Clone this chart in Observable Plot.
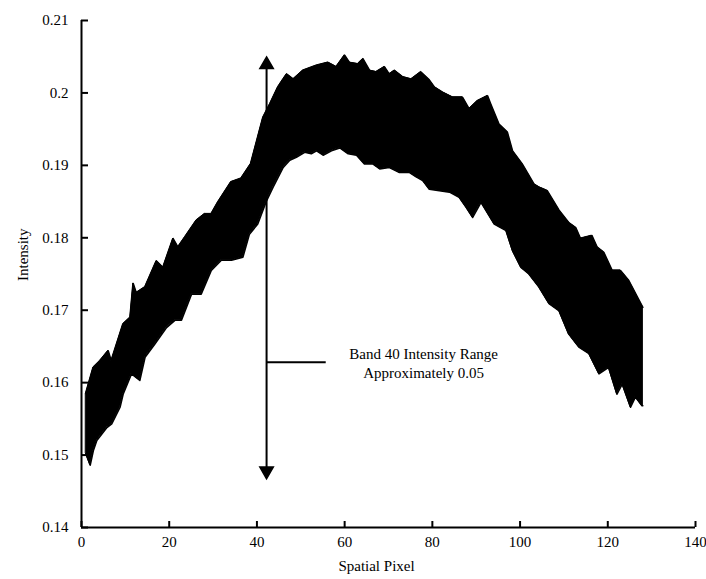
<!DOCTYPE html>
<html>
<head>
<meta charset="utf-8">
<script src="https://cdn.jsdelivr.net/npm/d3@7"></script>
<script src="https://cdn.jsdelivr.net/npm/@observablehq/plot@0.6"></script>
<style>
  html, body { margin: 0; padding: 0; background: #fff; }
  #chart svg { display: block; }
</style>
</head>
<body>
<div id="chart"></div>
<script>
// Upper envelope of the band of curves (spatial pixel, intensity)
const upperX = [1, 2.7, 4.2, 6.1, 6.8, 9.5, 11.1, 11.8, 12.5, 14.5, 17.1, 18.6, 20.9, 22, 23.6, 26.2, 28.1, 29.6, 31.1, 34.1, 36.4, 38.6, 41.4, 43, 44.8, 46, 46.8, 48.3, 50.5, 53.6, 56.2, 58.1, 60, 61.1, 63, 64.2, 65.7, 67.2, 69.1, 70.2, 71.4, 73.3, 75.2, 77.4, 79.3, 80.5, 82.3, 84.6, 86.9, 88.4, 90.3, 92.6, 93.3, 95.2, 97.1, 98.3, 100.5, 103.2, 104.3, 106.2, 108.9, 111.1, 112.7, 113.8, 116.4, 117.6, 119.1, 121, 122.9, 124.8, 128];
const upperY = [0.1585, 0.1621, 0.1630, 0.1644, 0.1630, 0.1681, 0.1690, 0.1737, 0.1724, 0.1732, 0.1768, 0.1759, 0.1799, 0.1787, 0.1801, 0.1824, 0.1833, 0.1833, 0.1849, 0.1877, 0.1882, 0.1902, 0.1966, 0.1985, 0.2008, 0.2019, 0.2026, 0.2019, 0.2031, 0.2038, 0.2042, 0.2036, 0.2052, 0.2042, 0.2040, 0.2047, 0.2031, 0.2029, 0.2036, 0.2026, 0.2031, 0.2022, 0.2019, 0.2029, 0.2018, 0.2008, 0.2001, 0.1994, 0.1994, 0.1978, 0.1989, 0.1996, 0.1985, 0.1957, 0.1946, 0.1920, 0.1902, 0.1874, 0.1870, 0.1865, 0.1838, 0.1821, 0.1814, 0.1799, 0.1803, 0.1787, 0.1780, 0.1755, 0.1755, 0.1741, 0.1704];

// Lower envelope of the band of curves
const lowerX = [1, 2, 2.7, 3.5, 5.8, 6.9, 8.8, 9.5, 11.4, 13.3, 14.5, 16.7, 19.4, 21.3, 22.8, 25.1, 27.3, 29.6, 31.9, 34.2, 36.8, 38.3, 40.2, 42.2, 43.7, 46, 47.5, 49, 50.9, 52.4, 53.6, 55.1, 57, 58.9, 60.8, 62.7, 64.5, 66.4, 68, 70.2, 72.5, 74.8, 76.3, 77.8, 79.3, 81.6, 83.9, 86.1, 87.7, 89.2, 91.1, 92.2, 94.1, 96.8, 98.3, 100.2, 102, 104.3, 106.6, 108.9, 111.1, 113.4, 115.7, 118, 120.2, 122.1, 123.3, 125.2, 126.3, 127.8, 128];
const lowerY = [0.1502, 0.1486, 0.1506, 0.1520, 0.1538, 0.1543, 0.1566, 0.1584, 0.1612, 0.1603, 0.1635, 0.1653, 0.1676, 0.1686, 0.1686, 0.1722, 0.1722, 0.1755, 0.1769, 0.1769, 0.1773, 0.1805, 0.1819, 0.1851, 0.1870, 0.1897, 0.1907, 0.1911, 0.1918, 0.1916, 0.1920, 0.1914, 0.1920, 0.1924, 0.1916, 0.1914, 0.1902, 0.1902, 0.1895, 0.1897, 0.1890, 0.1890, 0.1884, 0.1879, 0.1867, 0.1865, 0.1863, 0.1856, 0.1842, 0.1828, 0.1849, 0.1838, 0.1819, 0.1810, 0.1782, 0.1759, 0.1750, 0.1732, 0.1709, 0.1699, 0.1667, 0.1649, 0.1640, 0.1612, 0.1621, 0.1584, 0.1598, 0.1566, 0.1580, 0.1568, 0.1568];

// Axes
const xTicks = [0, 20, 40, 60, 80, 100, 120, 140];
const yTicks = [0.14, 0.15, 0.16, 0.17, 0.18, 0.19, 0.2, 0.21];
const yTickLabels = ["0.14", "0.15", "0.16", "0.17", "0.18", "0.19", "0.2", "0.21"];

// Annotation
const bandPixel = 42.2;
const rangeLow = 0.1478;
const rangeHigh = 0.2039;
const pointerY = 0.1628;
const pointerEndX = 55.8;
const noteX = 78;
const noteText = "Band 40 Intensity Range\nApproximately 0.05";

const idx = d3.range(upperX.length);
const upperPts = upperX.map((x, i) => ({x, y: upperY[i]}));
const lowerPts = lowerX.map((x, i) => ({x, y: lowerY[i]}));

const font = "'Liberation Serif', 'Times New Roman', serif";
const W = 706, H = 579, ML = 81, MR = 11, MT = 20, MB = 52;
const frameW = W - ML - MR, frameH = H - MT - MB;

const chart = Plot.plot({
  width: W,
  height: H,
  marginLeft: ML,
  marginRight: MR,
  marginTop: MT,
  marginBottom: MB,
  style: {fontFamily: font, fontSize: "15px", color: "black", background: "white"},
  x: {domain: [0, 140]},
  y: {domain: [0.14, 0.21]},
  marks: [
    Plot.area(idx, {
      x1: i => upperX[i], y1: i => upperY[i],
      x2: i => lowerX[i], y2: i => lowerY[i],
      fill: "black", stroke: "black", strokeWidth: 1
    }),
    Plot.line(upperPts, {x: "x", y: "y", stroke: "black", strokeWidth: 1.5}),
    Plot.line(lowerPts, {x: "x", y: "y", stroke: "black", strokeWidth: 1.5}),
    // annotation arrow
    Plot.ruleX([bandPixel], {y1: rangeLow, y2: rangeHigh, stroke: "black", strokeWidth: 2}),
    Plot.dot([rangeHigh], {x: () => bandPixel, y: d => d, symbol: "triangle", r: 5, fill: "black", stroke: "black"}),
    Plot.dot([rangeLow], {x: () => bandPixel, y: d => d, symbol: "triangle", rotate: 180, r: 5, fill: "black", stroke: "black"}),
    Plot.ruleY([pointerY], {x1: bandPixel, x2: pointerEndX, stroke: "black", strokeWidth: 2}),
    Plot.text([noteText], {x: noteX, y: pointerY, text: d => d, fontSize: 15, lineHeight: 1.3, fill: "black"}),
    // axes
    Plot.ruleX([0], {stroke: "black", strokeWidth: 2}),
    Plot.ruleY([0.14], {stroke: "black", strokeWidth: 2}),
    Plot.tickY(yTicks, {y: d => d, insetRight: frameW - 7, stroke: "black", strokeWidth: 2}),
    Plot.tickX(xTicks, {x: d => d, insetTop: frameH - 6, stroke: "black", strokeWidth: 2}),
    Plot.axisY(yTicks, {tickSize: 0, tickPadding: 13, tickFormat: (d, i) => yTickLabels[i], label: null, fontSize: 15}),
    Plot.axisX(xTicks, {tickSize: 0, tickPadding: 9, label: null, fontSize: 15}),
    Plot.text(["Spatial Pixel"], {frameAnchor: "bottom", dx: -12, dy: 43, text: d => d, fontSize: 15, fill: "black"}),
    Plot.text(["Intensity"], {frameAnchor: "left", dx: -58, dy: 7, rotate: -90, text: d => d, fontSize: 15, fill: "black"})
  ]
});
document.getElementById("chart").appendChild(chart);
</script>
</body>
</html>
